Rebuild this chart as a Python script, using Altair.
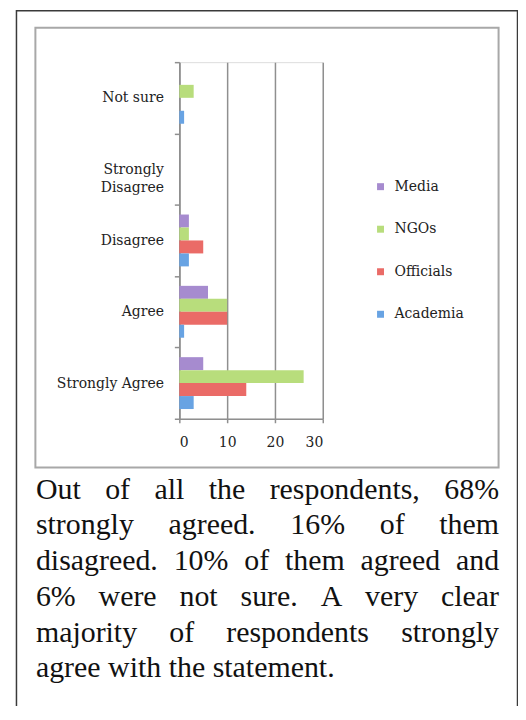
import altair as alt
import pandas as pd

# ---------------- data ----------------
categories = ["Not sure", "Strongly Disagree", "Disagree", "Agree", "Strongly Agree"]
series = ["Media", "NGOs", "Officials", "Academia"]
media = [0, 0, 2, 6, 5]
ngos = [3, 0, 2, 10, 26]
officials = [0, 0, 5, 10, 14]
academia = [1, 0, 2, 1, 3]
colors = ["#a68bcf", "#b8dd7c", "#ea6b67", "#68a3e3"]
x_ticks = [0, 10, 20, 30]

paragraph_lines = [
    "Out of all the respondents, 68%",
    "strongly agreed. 16% of them",
    "disagreed. 10% of them agreed and",
    "6% were not sure. A very clear",
    "majority of respondents strongly",
    "agree with the statement.",
]

# ---------------- tables ----------------
values_by_series = {"Media": media, "NGOs": ngos, "Officials": officials, "Academia": academia}
rows = []
for s in series:
    for c, v in zip(categories, values_by_series[s]):
        rows.append({"category": c, "series": s, "value": v})
df = pd.DataFrame(rows)

# layout (plot origin on page: x=180, y=61)
OX, OY = 180, 61
PLOT_W, PLOT_H = 144, 358
PAD_L, PAD_T = OX - 8, OY - 8
SVG_W, SVG_H = 512, 698

# Times/Liberation Serif advance widths (1/1000 em) for justification
W = {" ": 250, "%": 833, ",": 250, ".": 250, "A": 722, "O": 722,
     "a": 444, "b": 500, "c": 444, "d": 500, "e": 444, "f": 333, "g": 500, "h": 500,
     "i": 278, "j": 278, "k": 500, "l": 278, "m": 778, "n": 500, "o": 500, "p": 500,
     "q": 500, "r": 333, "s": 389, "t": 278, "u": 500, "v": 500, "w": 722, "x": 500,
     "y": 500, "z": 444}
FS = 30
def tw(s):
    return sum(W.get(ch, 500) for ch in s) / 1000 * FS

LEFT, RIGHT = 36, 501
baselines = [500, 535, 571, 607, 643, 678]
left_words, right_words = [], []
for i, (line, base) in enumerate(zip(paragraph_lines, baselines)):
    words = line.split()
    if i == len(paragraph_lines) - 1:
        x = LEFT
        for w in words:
            left_words.append({"w": w, "px": x - OX, "py": base - OY})
            x += tw(w) + tw(" ")
    else:
        total = sum(tw(w) for w in words)
        gap = (RIGHT - LEFT - total) / (len(words) - 1)
        x = LEFT
        for w in words[:-1]:
            left_words.append({"w": w, "px": x - OX, "py": base - OY})
            x += tw(w) + gap
        right_words.append({"w": words[-1], "px": RIGHT - OX, "py": base - OY})

one = pd.DataFrame({"a": [0]})

outer = alt.Chart(one).mark_rect(fill="transparent", stroke="#3a3a3a", strokeWidth=1.5).encode(
    x=alt.value(16.5 - OX), x2=alt.value(519.5 - OX),
    y=alt.value(9.5 - OY), y2=alt.value(760 - OY))

inner = alt.Chart(one).mark_rect(fill="transparent", stroke="#a8a8a8", strokeWidth=2).encode(
    x=alt.value(35.5 - OX), x2=alt.value(500.5 - OX),
    y=alt.value(26.5 - OY), y2=alt.value(468 - OY))

AXC = "#8f8f8f"
LFONT = "DejaVu Serif"
PFONT = "Liberation Serif"

bars = alt.Chart(df).mark_bar().encode(
    y=alt.Y("category:N", sort=categories,
            scale=alt.Scale(paddingInner=0, paddingOuter=0),
            axis=alt.Axis(title=None, domainColor=AXC, domainWidth=1.5, tickColor=AXC,
                          tickWidth=1.5, tickSize=5, tickBand="extent", labelFont=LFONT,
                          labelFontSize=14, labelColor="#222222", labelPadding=11,
                          labelLineHeight=18,
                          labelExpr="datum.value == 'Strongly Disagree' ? ['Strongly', 'Disagree'] : datum.value")),
    yOffset=alt.YOffset("series:N", sort=series,
                        scale=alt.Scale(paddingInner=0, paddingOuter=0.75)),
    x=alt.X("value:Q", scale=alt.Scale(domain=[0, 30], nice=False),
            axis=alt.Axis(title=None, values=x_ticks, format="d", grid=True, gridColor=AXC,
                          gridWidth=1.5, domainColor=AXC, domainWidth=1.5, tickColor=AXC,
                          tickWidth=1.5, tickSize=4, labelPadding=13, labelFont=LFONT,
                          labelFontSize=14, labelColor="#222222")),
    color=alt.Color("series:N", sort=series, scale=alt.Scale(domain=series, range=colors),
                    legend=alt.Legend(title=None, orient="none", legendX=195, legendY=118,
                                      symbolType="square", symbolSize=49, symbolStrokeWidth=0,
                                      labelFont=LFONT, labelFontSize=14, labelColor="#222222",
                                      labelOffset=7, rowPadding=28.7, padding=0)),
)

text_left = alt.Chart(pd.DataFrame(left_words)).mark_text(
    align="left", baseline="alphabetic", font=PFONT, fontSize=FS, color="#111111"
).encode(x=alt.X("px:Q", scale=None, axis=None), y=alt.Y("py:Q", scale=None, axis=None), text="w:N")

text_right = alt.Chart(pd.DataFrame(right_words)).mark_text(
    align="right", baseline="alphabetic", font=PFONT, fontSize=FS, color="#111111"
).encode(x=alt.X("px:Q", scale=None, axis=None), y=alt.Y("py:Q", scale=None, axis=None), text="w:N")

chart = alt.layer(outer, inner, bars, text_left, text_right).resolve_scale(
    x="independent", y="independent"
).properties(
    width=PLOT_W, height=PLOT_H,
    autosize=alt.AutoSizeParams(type="none"),
    padding={"left": PAD_L, "top": PAD_T, "right": SVG_W - PAD_L - PLOT_W,
             "bottom": SVG_H - PAD_T - PLOT_H},
).configure_view(strokeWidth=0).configure(background="white")

chart.save("out.html", embed_options={"renderer": "svg", "actions": False})
